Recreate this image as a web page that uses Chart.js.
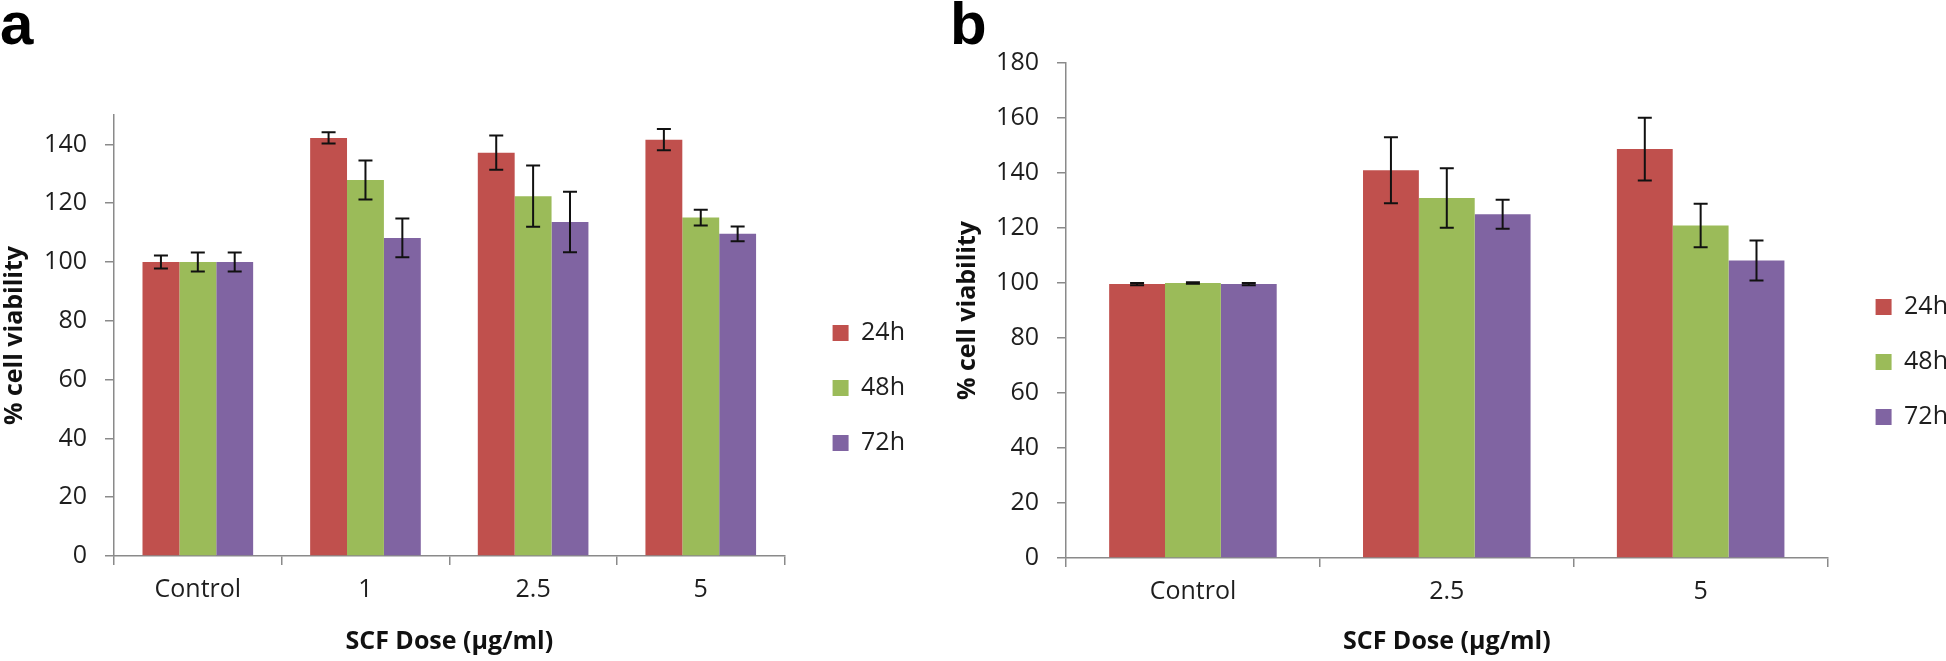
<!DOCTYPE html>
<html>
<head>
<meta charset="utf-8">
<script src="https://cdn.jsdelivr.net/npm/chart.js@4.4.0/dist/chart.umd.min.js"></script>
<style>
html, body { margin: 0; padding: 0; background: #fff; overflow: hidden; width: 1946px; height: 661px; }
.panel { position: absolute; top: 0; }
.tag { position: absolute; font-family: "Liberation Sans", Arial, sans-serif; font-weight: bold; font-size: 60px; line-height: 60px; color: #000; }
</style>
</head>
<body>
<div class="tag" style="left:0px;top:-6px">a</div>
<canvas id="chartA" class="panel" style="left:0px" width="915" height="661"></canvas>
<div class="tag" style="left:950px;top:-6px">b</div>
<canvas id="chartB" class="panel" style="left:930px" width="1028" height="661"></canvas>
<script>
// series shared by both panels
var seriesNames = ['24h', '48h', '72h'];
var seriesColors = ['#C0504D', '#9BBB59', '#8064A2'];

// panel a
var dosesA = ['Control', '1', '2.5', '5'];
var a24 = [100, 142.2, 137.2, 141.6];
var a48 = [100, 127.9, 122.4, 115.1];
var a72 = [100, 108.2, 113.6, 109.6];
var a24err = [2.2, 1.9, 5.8, 3.6];
var a48err = [3.2, 6.6, 10.4, 2.7];
var a72err = [3.2, 6.6, 10.3, 2.5];
var ticksA = [0, 20, 40, 60, 80, 100, 120, 140];
var maxA = 150;

// panel b
var dosesB = ['Control', '2.5', '5'];
var b24 = [99.6, 141, 148.7];
var b48 = [100, 130.9, 120.9];
var b72 = [99.6, 125, 108.2];
var b24err = [0.4, 12, 11.4];
var b48err = [0.3, 10.8, 7.9];
var b72err = [0.4, 5.3, 7.3];
var ticksB = [0, 20, 40, 60, 80, 100, 120, 140, 160, 180];
var maxB = 180;

var axisGrey = '#8a8a8a';
var textCol = '#1e1e1e';
var fontSize = 25;
Chart.defaults.font.family = "'Open Sans', sans-serif";

// error bars drawn on top of bars using the y scale
var errorBars = {
  id: 'errorBars',
  afterDatasetsDraw: function(chart) {
    var ctx = chart.ctx;
    var ys = chart.scales.y;
    ctx.save();
    ctx.strokeStyle = '#111';
    ctx.lineWidth = 2;
    chart.data.datasets.forEach(function(ds, i) {
      var meta = chart.getDatasetMeta(i);
      meta.data.forEach(function(bar, j) {
        var v = ds.data[j], e = ds.errors[j];
        var top = ys.getPixelForValue(v + e);
        var bot = ys.getPixelForValue(v - e);
        ctx.beginPath();
        ctx.moveTo(bar.x, top); ctx.lineTo(bar.x, bot);
        ctx.moveTo(bar.x - 7, top); ctx.lineTo(bar.x + 7, top);
        ctx.moveTo(bar.x - 7, bot); ctx.lineTo(bar.x + 7, bot);
        ctx.stroke();
      });
    });
    ctx.restore();
  }
};

function makeChart(id, labels, values, errs, yTicks, yMax, pad, yWidth, xHeight) {
  var datasets = [];
  for (var i = 0; i < seriesNames.length; i++) {
    datasets.push({
      label: seriesNames[i],
      data: values[i],
      errors: errs[i],
      backgroundColor: seriesColors[i],
      borderWidth: 0,
      categoryPercentage: 0.66,
      barPercentage: 1.0
    });
  }
  return new Chart(document.getElementById(id), {
    type: 'bar',
    data: { labels: labels, datasets: datasets },
    plugins: [errorBars],
    options: {
      responsive: false,
      animation: false,
      layout: { padding: pad },
      plugins: {
        tooltip: { enabled: false },
        legend: {
          position: 'right',
          align: 'center',
          labels: {
            boxWidth: 16,
            boxHeight: 16,
            padding: 30,
            color: textCol,
            font: { size: fontSize }
          }
        }
      },
      scales: {
        x: {
          grid: { display: true, drawOnChartArea: false, drawTicks: true, tickLength: 9, offset: true, color: axisGrey, lineWidth: 1.5 },
          border: { display: true, color: axisGrey, width: 1.5 },
          ticks: { color: textCol, font: { size: fontSize }, padding: 10, maxRotation: 0 },
          title: { display: true, text: 'SCF Dose (µg/ml)', color: '#111', font: { size: fontSize, weight: 'bold' }, padding: { top: 0, bottom: 4 } },
          afterFit: function(s) { s.height = xHeight; }
        },
        y: {
          min: 0,
          max: yMax,
          grid: { drawOnChartArea: false, drawTicks: true, tickLength: 9, color: axisGrey, lineWidth: 1.5 },
          border: { display: true, color: axisGrey, width: 1.5 },
          ticks: { color: textCol, font: { size: fontSize }, padding: 18 },
          afterBuildTicks: function(s) { s.ticks = yTicks.map(function(v) { return { value: v }; }); },
          title: { display: true, text: '% cell viability', color: '#111', font: { size: fontSize, weight: 'bold' }, padding: { top: 0, bottom: 0 } },
          afterFit: function(s) { s.width = yWidth; }
        },
        gap: {
          type: 'linear',
          axis: 'y',
          position: 'right',
          display: true,
          grid: { display: false },
          border: { display: false },
          ticks: { display: false },
          afterFit: function(s) { s.width = 18; }
        }
      }
    }
  });
}

makeChart('chartA', dosesA, [a24, a48, a72], [a24err, a48err, a72err], ticksA, maxA,
  { top: 115, left: 0, right: 0, bottom: 0 }, 114, 105);
makeChart('chartB', dosesB, [b24, b48, b72], [b24err, b48err, b72err], ticksB, maxB,
  { top: 63, left: 23, right: 0, bottom: 0 }, 113, 103);
</script>
</body>
</html>
